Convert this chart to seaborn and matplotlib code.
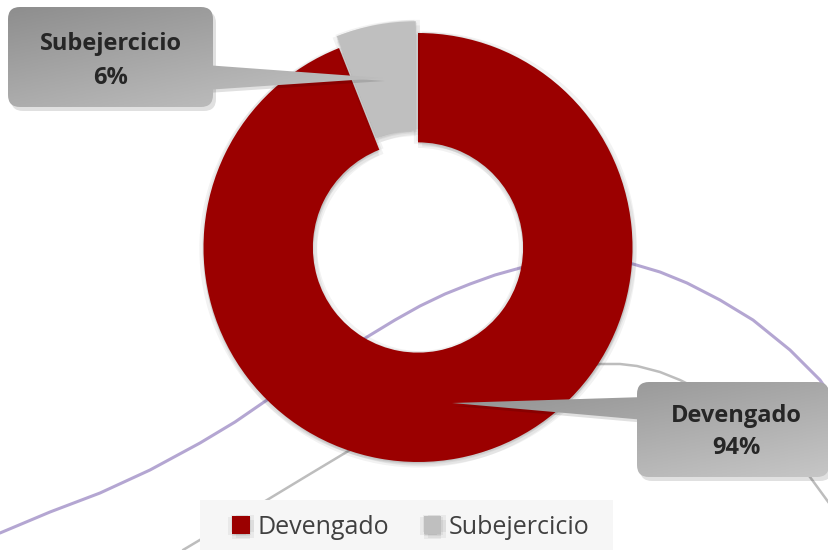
"""Donut chart: Devengado vs Subejercicio"""

import numpy as np
import seaborn as sns
import matplotlib.pyplot as plt
import matplotlib.patheffects as pe
from matplotlib.patches import FancyBboxPatch, Polygon, Rectangle

W, H = 829, 550

labels = ["Devengado", "Subejercicio"]
shares = [94, 6]
colors = ["#9b0000", "#bfbfbf"]

# decorative background curves (pixel x, pixel y from top)
purple_x = [0, 50, 100, 150, 200, 235, 267, 300, 330, 367, 395, 420, 445, 470, 495, 520, 545,
            570, 600, 633, 660, 687, 720, 753, 790, 820, 829]
purple_y = [533, 512, 493, 470, 443, 422, 400, 380, 361, 337, 320, 306, 294, 284, 275, 268, 262,
            259, 259, 264, 272, 283, 300, 320, 350, 380, 393]
gray_x = [183, 225, 267, 310, 350, 420, 490, 550, 575, 600, 620, 637, 660, 680, 720, 760, 790, 810, 829]
gray_y = [550, 525, 500, 474, 450, 422, 395, 375, 368, 364, 364, 366, 372, 380, 400, 430, 455, 477, 503]

sns.set_theme(style="white")
plt.rcParams["font.family"] = ["Open Sans", "DejaVu Sans"]

fig = plt.figure(figsize=(W / 100, H / 100), dpi=100)
ax = fig.add_axes([0, 0, 1, 1])
ax.set_xlim(0, W)
ax.set_ylim(0, H)
ax.axis("off")

sns.lineplot(x=purple_x, y=[H - v for v in purple_y], ax=ax, color="#b4a6d2",
             linewidth=2.2, sort=False, zorder=1)
sns.lineplot(x=gray_x, y=[H - v for v in gray_y], ax=ax, color="#bdbdbd",
             linewidth=1.8, sort=False, zorder=1)

cx, cy, R = 418, H - 247.5, 214.5
# explode is in data units here (pixels)
wedges, _ = ax.pie(shares, colors=colors, startangle=90, counterclock=False,
                   center=(cx, cy), radius=R, explode=[0, 12],
                   wedgeprops=dict(width=R * 0.51, linewidth=0))
glow = [pe.SimplePatchShadow(offset=o, shadow_rgbFace="black", alpha=0.05)
        for o in [(0, -4), (3, -3), (-3, -1), (3, 1), (0, -2), (-1, 1), (1, -1)]]
for w in wedges:
    w.set_zorder(3)
    w.set_path_effects(glow + [pe.Normal()])
ax.set_xlim(0, W)
ax.set_ylim(0, H)
ax.set_aspect("auto")


def gradient_img(c1, c2, n=64):
    c1 = np.array(plt.matplotlib.colors.to_rgb(c1))
    c2 = np.array(plt.matplotlib.colors.to_rgb(c2))
    u, v = np.meshgrid(np.linspace(0, 1, n), np.linspace(0, 1, n))
    t = (0.45 * u + 0.55 * v)[..., None]
    return c1 + (c2 - c1) * t


def callout(box, tip, base, text, tx, ty):
    x0, y0, x1, y1 = box  # pixel coords, y from top
    rect = FancyBboxPatch((x0, H - y1), x1 - x0, y1 - y0,
                          boxstyle="round,pad=0,rounding_size=12",
                          linewidth=0, facecolor="none", zorder=5)
    tri = Polygon([(base[0][0], H - base[0][1]), (tip[0], H - tip[1]),
                   (base[1][0], H - base[1][1])], closed=True,
                  linewidth=0, facecolor="none", zorder=5)
    xs = [x0, x1, tip[0]]
    ext = (min(xs), max(xs), H - y1, H - y0)
    for p in (rect, tri):
        if p is rect:
            sh = FancyBboxPatch((x0 + 3, H - y1 - 4), x1 - x0, y1 - y0,
                                boxstyle="round,pad=0,rounding_size=12",
                                linewidth=0, facecolor="black", alpha=0.12, zorder=4)
        else:
            sh = Polygon(p.get_xy() + [2, -3], closed=True,
                         linewidth=0, facecolor="black", alpha=0.12, zorder=4)
        ax.add_patch(sh)
        ax.add_patch(p)
        im = ax.imshow(gradient_img("#8e8e8e", "#c6c6c6"), extent=ext,
                       origin="upper", aspect="auto", zorder=5)
        im.set_clip_path(p)
    ax.text(tx, H - ty, text, ha="center", va="center", fontsize=17,
            fontweight="bold", color="#262626", linespacing=1.5, zorder=6)


callout((8, 7, 213, 107), (383, 78), [(205, 65), (205, 90)],
        f"{labels[1]}\n{shares[1]}%", 110.5, 61)
callout((637, 382, 829, 477), (452, 403), [(645, 397), (645, 420)],
        f"{labels[0]}\n{shares[0]}%", 736, 432)

ax.add_patch(Rectangle((200, 0), 413, 50, facecolor="#f6f6f6", edgecolor="none", zorder=2))
ax.legend(wedges, labels, loc="center", bbox_to_anchor=(411, H - 527),
          bbox_transform=ax.transData, ncol=2, frameon=False, fontsize=18,
          handlelength=0.7, handleheight=0.7, handletextpad=0.3,
          columnspacing=1.4, labelcolor="#404040")

ax.set_xlim(0, W)
ax.set_ylim(0, H)
fig.savefig("out.png", dpi=100)
